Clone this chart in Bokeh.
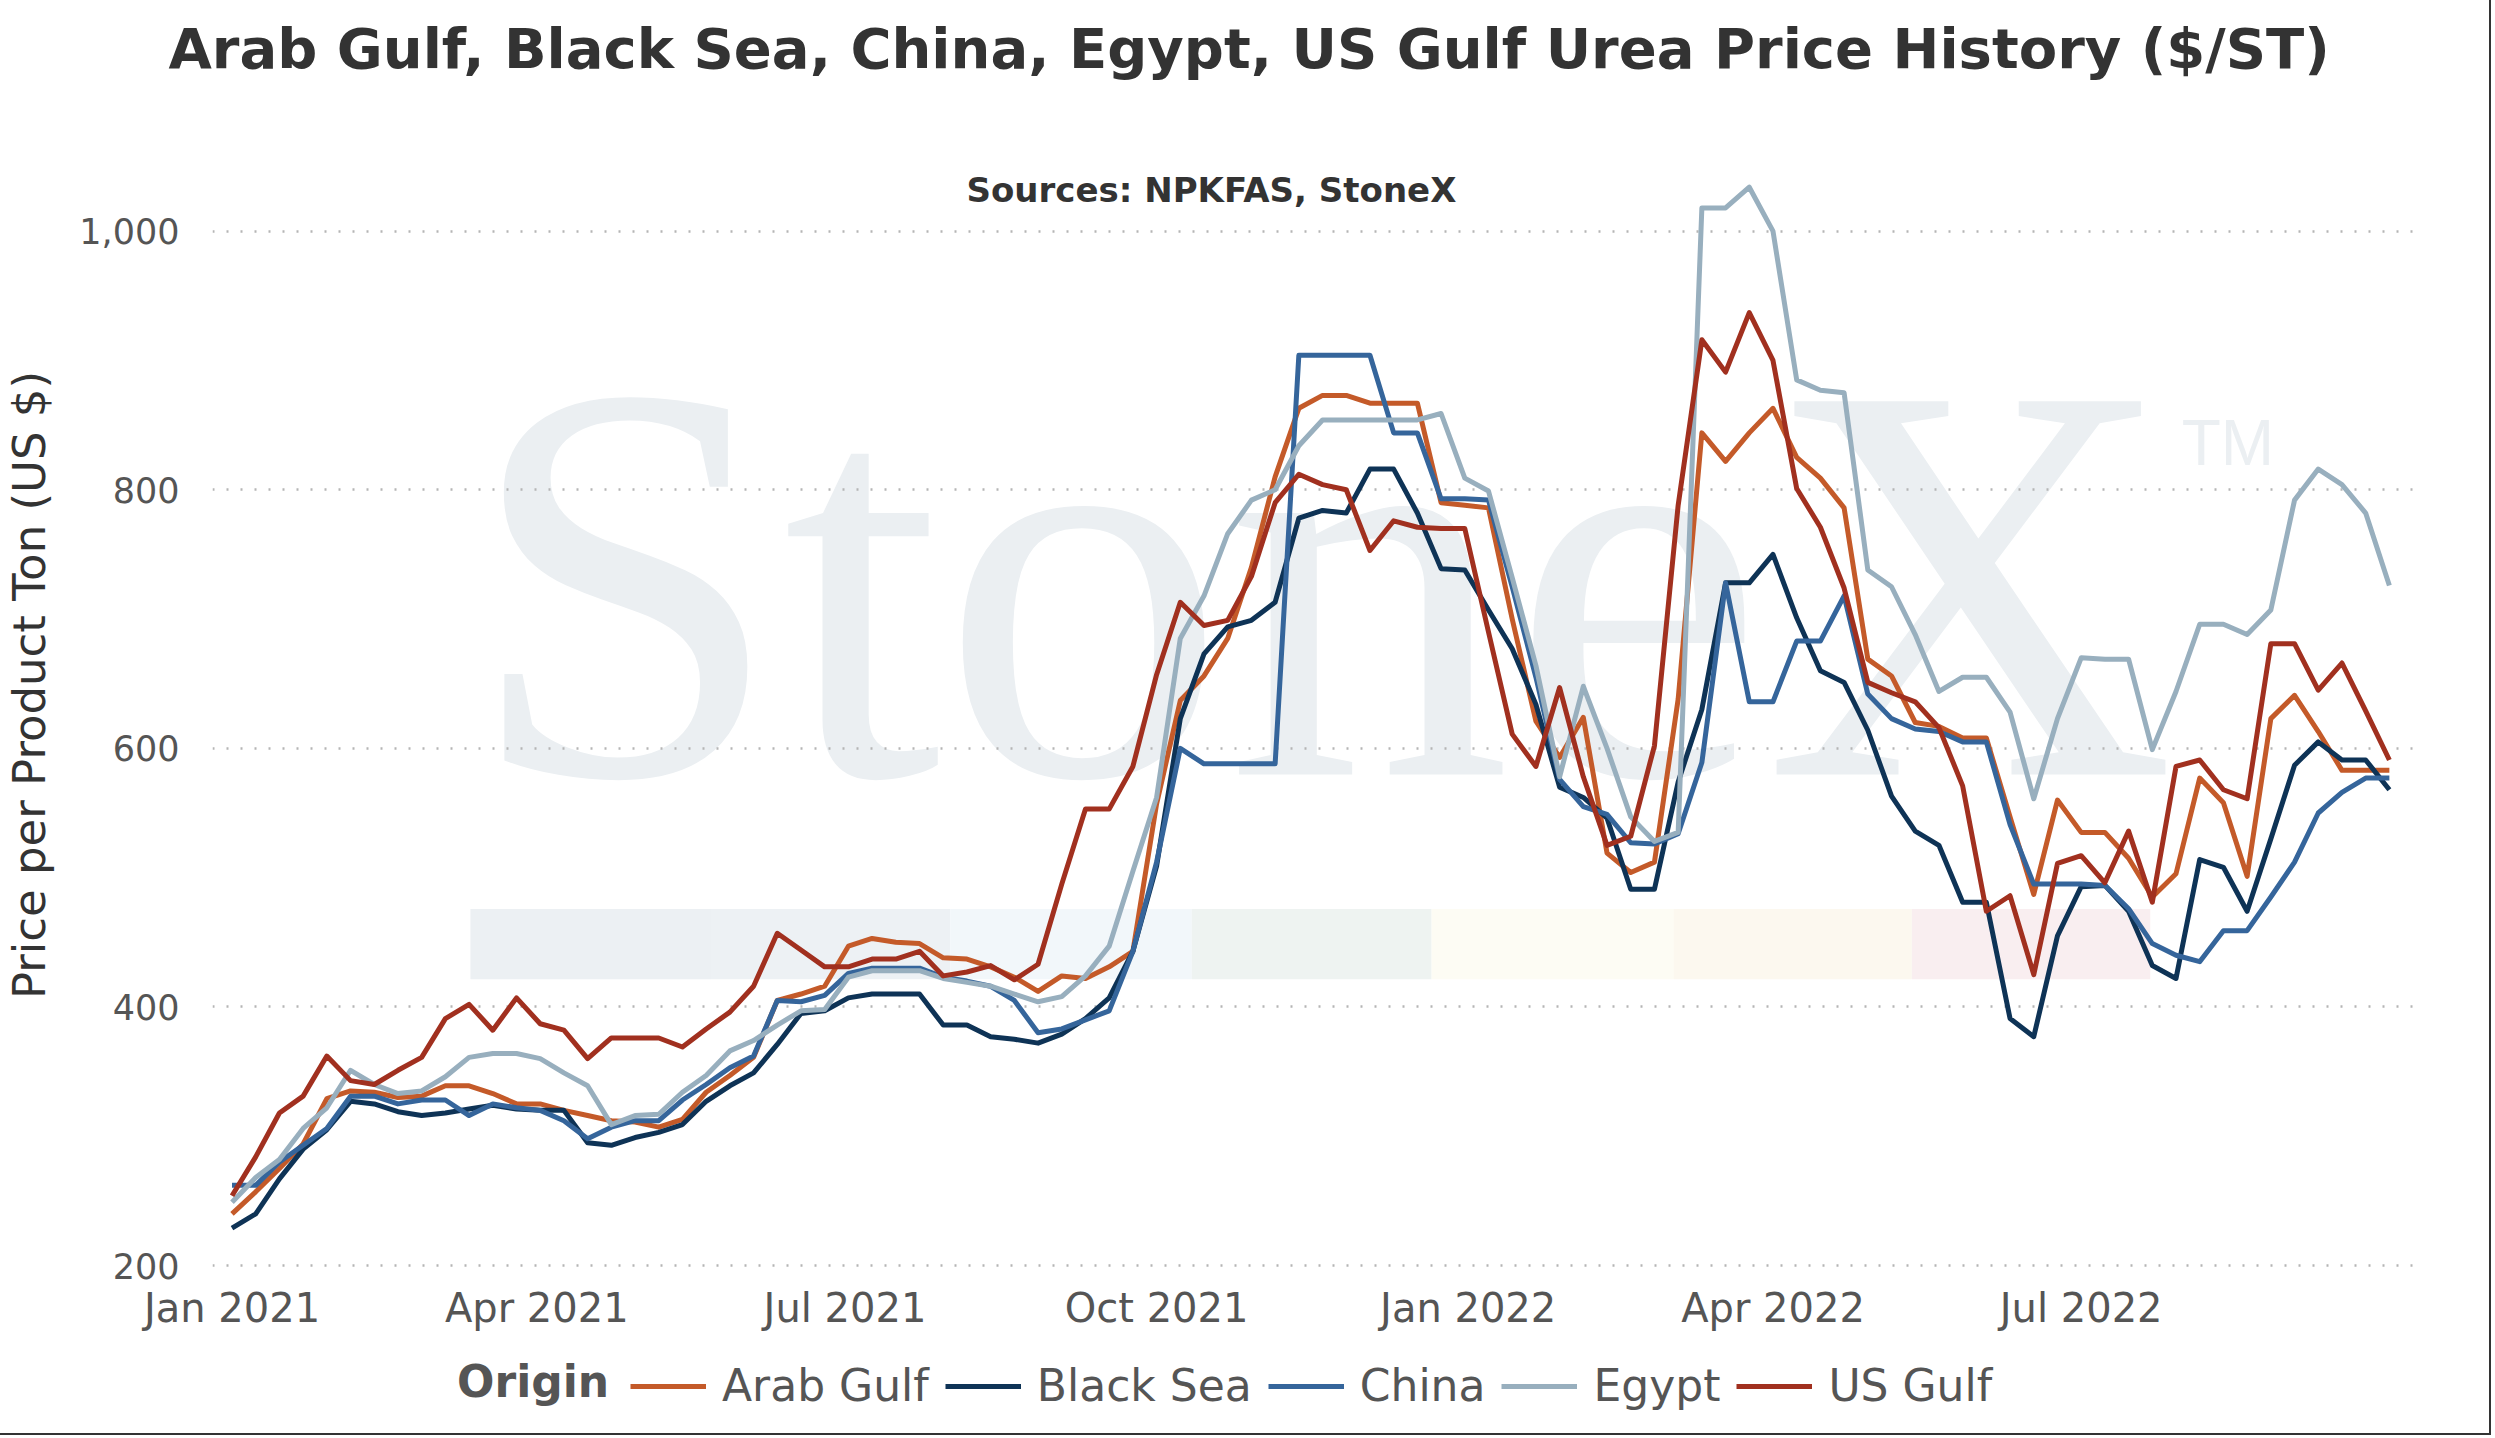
import pandas as pd
from bokeh.plotting import figure
from bokeh.layouts import column
from bokeh.core.properties import value
from bokeh.models import (
    Range1d, Title, Label, Legend, LegendItem,
    DatetimeTickFormatter, NumeralTickFormatter, FixedTicker,
)
from bokeh.embed import file_html
from bokeh.resources import INLINE

# ── Data (weekly, $/ST) ─────────────────────────────────────────
weeks = pd.date_range("2021-01-01", periods=92, freq="7D")

arab_gulf = [
    240, 257, 275, 294, 329, 335, 334, 330, 331, 339,
    339, 333, 325, 325, 320, 316, 312, 311, 307, 313,
    334, 347, 361, 405, 410, 416, 447, 453, 450, 449,
    438, 437, 431, 423, 412, 424, 422, 431, 443, 557,
    637, 656, 685, 740, 810, 863, 873, 873, 867, 867,
    867, 790, 788, 786, 700, 621, 593, 624, 519, 504,
    512, 638, 844, 822, 844, 863, 825, 809, 786, 669,
    656, 620, 617, 608, 608, 547, 487, 560, 535, 535,
    515, 485, 503, 577, 558, 501, 623, 641, 613, 583,
    583, 583,
]
black_sea = [
    229, 240, 267, 290, 305, 327, 325, 319, 316, 318,
    321, 324, 321, 320, 320, 295, 293, 299, 303, 309,
    327, 339, 349, 371, 395, 397, 407, 410, 410, 410,
    386, 386, 377, 375, 372, 379, 391, 407, 443, 509,
    623, 673, 694, 699, 713, 778, 784, 782, 816, 816,
    782, 739, 738, 707, 677, 634, 570, 562, 546, 491,
    491, 574, 630, 728, 728, 750, 701, 660, 651, 614,
    563, 536, 525, 481, 481, 391, 377, 455, 493, 494,
    474, 432, 422, 514, 508, 474, 530, 587, 605, 591,
    591, 568,
]
china = [
    262, 262, 280, 293, 306, 331, 331, 325, 328, 328,
    316, 325, 322, 320, 312, 298, 307, 312, 312, 328,
    340, 353, 362, 405, 404, 409, 426, 430, 430, 430,
    423, 420, 416, 405, 380, 383, 390, 397, 443, 512,
    600, 588, 588, 588, 588, 904, 904, 904, 904, 844,
    844, 793, 793, 792, 725, 655, 576, 555, 549, 527,
    526, 534, 589, 728, 636, 636, 683, 683, 718, 642,
    623, 615, 613, 605, 605, 541, 495, 495, 495, 494,
    476, 449, 440, 435, 459, 459, 485, 512, 550, 566,
    577, 577,
]
egypt = [
    249, 268, 282, 306, 322, 351, 340, 333, 335, 346,
    361, 364, 364, 360, 349, 339, 309, 316, 317, 334,
    347, 366, 374, 386, 397, 398, 423, 428, 428, 428,
    422, 419, 416, 410, 404, 408, 424, 447, 505, 562,
    685, 718, 766, 792, 800, 834, 854, 854, 854, 854,
    854, 859, 809, 799, 732, 664, 578, 648, 600, 547,
    528, 535, 1018, 1018, 1034, 1000, 885, 877, 875, 738,
    725, 688, 644, 655, 655, 628, 561, 623, 670, 669,
    669, 599, 644, 696, 696, 688, 707, 792, 816, 804,
    782, 726,
]
us_gulf = [
    254, 284, 318, 331, 362, 343, 340, 351, 361, 391,
    402, 382, 407, 387, 382, 360, 376, 376, 376, 369,
    383, 396, 416, 457, 444, 431, 431, 437, 437, 443,
    424, 427, 432, 421, 433, 495, 553, 553, 586, 657,
    713, 695, 699, 733, 790, 812, 804, 800, 753, 776,
    771, 770, 770, 690, 611, 586, 647, 578, 525, 532,
    602, 788, 916, 891, 937, 900, 801, 771, 724, 651,
    643, 636, 616, 571, 474, 486, 425, 511, 517, 496,
    536, 481, 586, 591, 568, 561, 681, 681, 645, 666,
    629, 591,
]

origins = ["Arab Gulf", "Black Sea", "China", "Egypt", "US Gulf"]
series = [arab_gulf, black_sea, china, egypt, us_gulf]
colors = ["#c45a29", "#0e3356", "#35659b", "#98afbe", "#a1301f"]
y_ticks = [200, 400, 600, 800, 1000]
x_ticks = ["2021-01-01", "2021-04-01", "2021-07-01", "2021-10-01",
           "2022-01-01", "2022-04-01", "2022-07-01"]

FONT = "DejaVu Sans"
DAY = pd.Timedelta(days=1)
t0 = pd.Timestamp("2021-01-01")


def ms(ts):
    return ts.value / 1e6


# ── Main chart ──────────────────────────────────────────────────
p = figure(
    frame_width=2206, frame_height=1175,
    x_axis_type="datetime",
    x_range=Range1d(t0 - 5.76 * DAY, t0 + 645.6 * DAY),
    y_range=Range1d(194.6, 1103.4),
    output_backend="svg", toolbar_location=None, tools="",
    min_border_left=208, min_border_right=65,
    min_border_top=92, min_border_bottom=62,
)
p.outline_line_color = None
p.background_fill_color = "white"
p.border_fill_color = "white"

# watermark (StoneX logo) behind everything
wm = "#ebeff2"
band_edges = [70.4, 141.7, 212.1, 283.4, 354.2, 425.6, 496.0, 566.4]
band_colors = ["#ecf0f3", "#edf1f4", "#f2f7fa", "#eef3f1", "#fdfcf4", "#fcf8ef", "#f9eef0"]
p.quad(
    left=[t0 + d * DAY for d in band_edges[:-1]],
    right=[t0 + d * DAY for d in band_edges[1:]],
    bottom=421.5, top=475.7, fill_color=band_colors, line_color=None, level="image",
)
p.add_layout(Label(
    x=ms(t0 + 69 * DAY), y=728.6, text="StoneX",
    text_font="Liberation Serif", text_font_size="570px", text_color=wm,
    text_baseline="middle", level="image",
))
p.add_layout(Label(
    x=ms(t0 + 575.7 * DAY), y=836.3, text="TM",
    text_font="Liberation Sans", text_font_size="64px", text_color=wm,
    text_baseline="middle", level="image",
))

for name, vals, col in zip(origins, series, colors):
    p.line(weeks, vals, line_color=col, line_width=5, line_join="round")

title = Title(
    text="Arab Gulf, Black Sea, China, Egypt, US Gulf Urea Price History ($/ST)",
    align="left", offset=-44, standoff=30, vertical_align="top",
    text_font=FONT, text_font_size="56px", text_font_style="bold", text_color="#333333",
)
p.add_layout(title, "above")

p.add_layout(Label(
    x=ms(t0 + 289.2 * DAY), y=1032, text="Sources: NPKFAS, StoneX",
    text_font=FONT, text_font_size="34px", text_font_style="bold", text_color="#333333",
    text_align="center", text_baseline="middle",
))

p.xaxis.ticker = FixedTicker(ticks=[ms(pd.Timestamp(t)) for t in x_ticks])
p.xaxis.formatter = DatetimeTickFormatter(months="%b %Y", days="%b %Y")
p.yaxis.ticker = FixedTicker(ticks=y_ticks)
p.yaxis.formatter = NumeralTickFormatter(format="0,0")
p.yaxis.axis_label = "Price per Product Ton (US $)"

for ax in (p.xaxis, p.yaxis):
    ax.axis_line_color = None
    ax.major_tick_line_color = None
    ax.minor_tick_line_color = None
    ax.major_tick_out = 0
    ax.major_tick_in = 0
    ax.major_label_text_font = FONT
    ax.major_label_text_color = "#555555"

p.xaxis.major_label_text_font_size = "40px"
p.xaxis.major_label_standoff = 12
p.yaxis.major_label_text_font_size = "35px"
p.yaxis.major_label_standoff = 33
p.yaxis.axis_label_text_font = FONT
p.yaxis.axis_label_text_font_size = "45px"
p.yaxis.axis_label_text_font_style = "normal"
p.yaxis.axis_label_text_color = "#333333"
p.yaxis.axis_label_standoff = 20

p.xgrid.grid_line_color = None
p.ygrid.grid_line_color = "#b5b5b5"
p.ygrid.grid_line_width = 2.5
p.ygrid.grid_line_dash = "2 12"

# ── Legend strip below the chart (its frame is aligned to the chart frame) ──
leg = figure(
    width=2479, height=93,
    x_range=Range1d(208, 2414), y_range=Range1d(0, 93),
    output_backend="svg", toolbar_location=None, tools="",
    x_axis_location=None, y_axis_location=None,
    min_border_left=208, min_border_right=65, min_border_top=0, min_border_bottom=0,
)
leg.outline_line_color = None
leg.xgrid.grid_line_color = None
leg.ygrid.grid_line_color = None
leg.border_fill_color = "white"

# swatch renderers kept out of view; only their legend glyphs show
swatches = [leg.line(x=[0, 1], y=[-50, -50], line_color=col, line_width=5) for col in colors]
legend = Legend(
    items=[LegendItem(label=n, renderers=[r]) for n, r in zip(origins, swatches)],
    orientation="horizontal", location=(418, 16),
    label_text_font=FONT, label_text_font_size="44px", label_text_color="#555555",
    glyph_width=76, glyph_height=20, label_standoff=16, spacing=16,
    padding=4, margin=0, border_line_color=None, background_fill_alpha=0,
)
leg.add_layout(legend)
leg.text(
    x=[453], y=[46], text=["Origin"],
    text_font=value(FONT), text_font_size="44px", text_font_style="bold",
    text_color="#555555", text_align="left", text_baseline="middle",
)

page = column(p, leg, spacing=0)
page.styles = {"outline": "2px solid #333333", "outline-offset": "6px"}

open("out.html", "w").write(file_html(page, INLINE))
